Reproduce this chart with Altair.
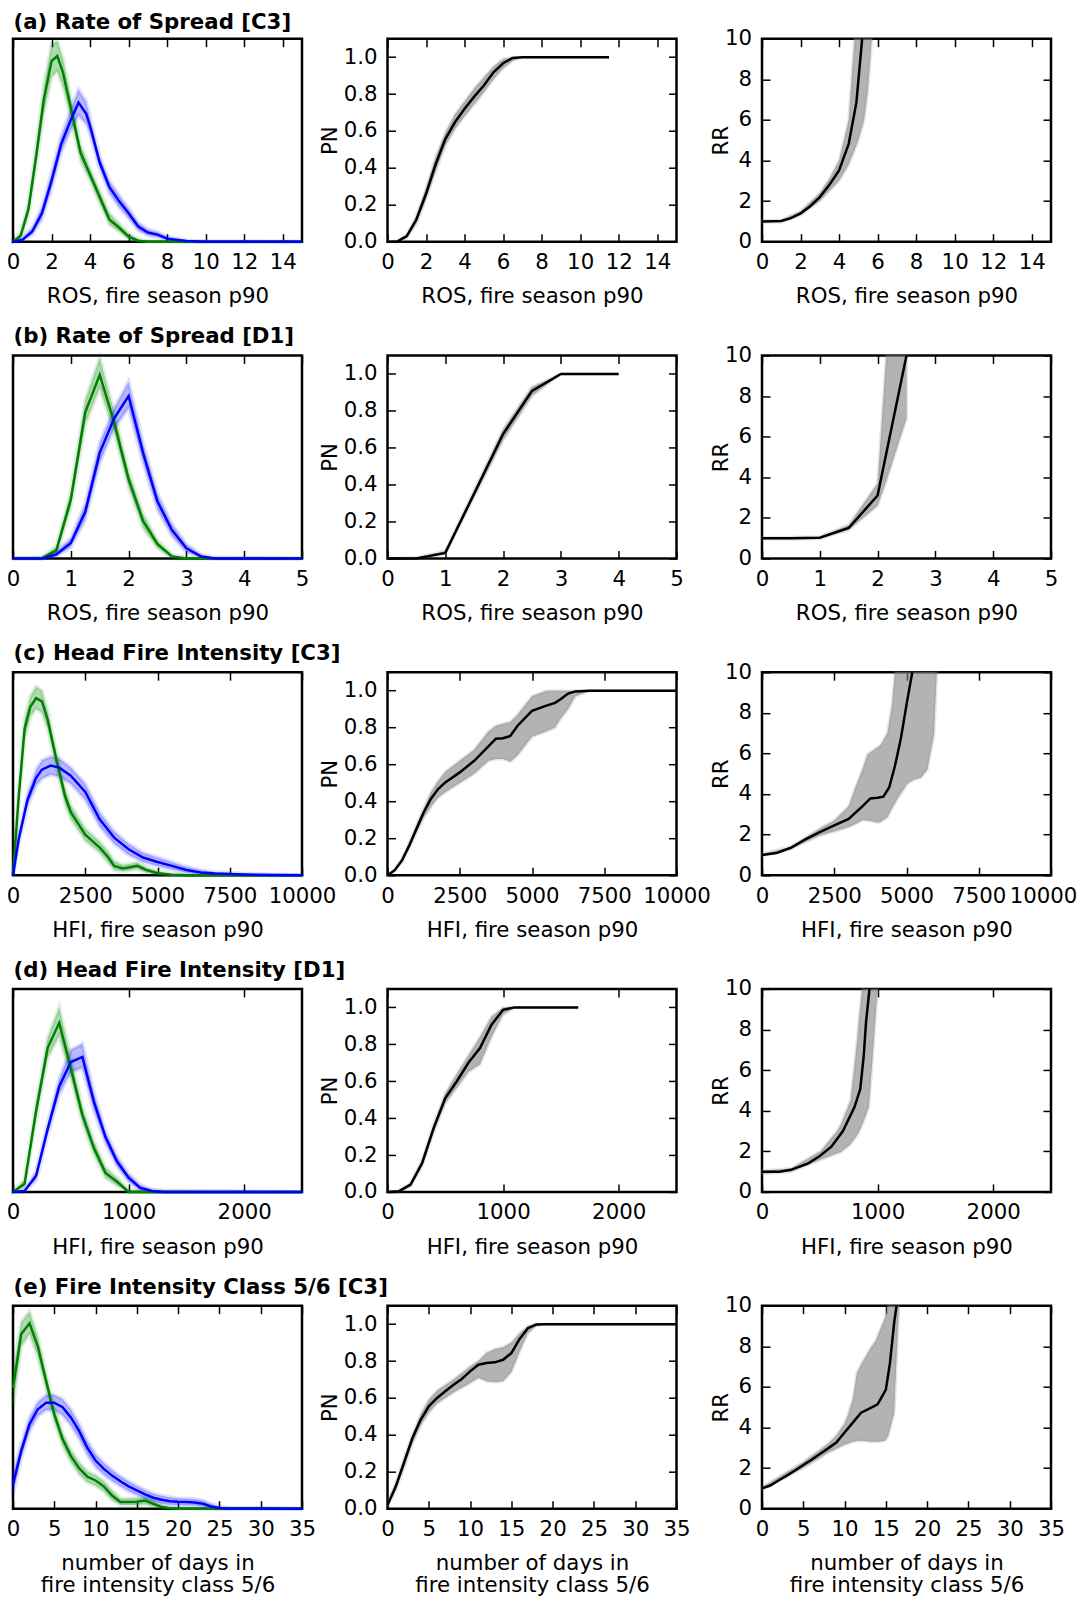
import altair as alt
import pandas as pd

FONT = "DejaVu Sans"
FS = 21.3
GREEN = "#008000"
BLUE = "#0000ff"
GRAY = "#808080"

row_titles = ["(a) Rate of Spread [C3]", "(b) Rate of Spread [D1]",
              "(c) Head Fire Intensity [C3]", "(d) Head Fire Intensity [D1]",
              "(e) Fire Intensity Class 5/6 [C3]"]
x_titles = ["ROS, fire season p90", "ROS, fire season p90",
            "HFI, fire season p90", "HFI, fire season p90",
            ["number of days in", "fire intensity class 5/6"]]
x_domains = [[0, 15], [0, 5], [0, 10000], [0, 2500], [0, 35]]
a_xticks = [0, 2, 4, 6, 8, 10, 12, 14]
b_xticks = [0, 1, 2, 3, 4, 5]
c_xticks = [0, 2500, 5000, 7500, 10000]
d_xticks = [0, 1000, 2000]
e_xticks = [0, 5, 10, 15, 20, 25, 30, 35]
pn_ticks = [0, 0.2, 0.4, 0.6, 0.8, 1.0]
rr_ticks = [0, 2, 4, 6, 8, 10]

# ---------------- row (a) ----------------
ga_x = [0, 0.4, 0.8, 1.2, 1.6, 2.0, 2.3, 2.6, 3.0, 3.5, 4.0, 4.5, 5.0, 5.5, 6.0, 6.5, 7.0, 8.0, 15]
ga_y = [0, 0.03, 0.16, 0.42, 0.70, 0.89, 0.915, 0.83, 0.66, 0.44, 0.33, 0.22, 0.11, 0.07, 0.025, 0.005, 0, 0, 0]
ga_hi = [0.005, 0.045, 0.19, 0.47, 0.77, 0.97, 0.99, 0.90, 0.71, 0.48, 0.36, 0.25, 0.14, 0.09, 0.04, 0.012, 0.003, 0, 0]
ga_lo = [0, 0.015, 0.13, 0.37, 0.63, 0.81, 0.84, 0.76, 0.61, 0.40, 0.30, 0.19, 0.085, 0.05, 0.012, 0, 0, 0, 0]
ba_x = [0, 0.5, 1.0, 1.5, 2.0, 2.5, 3.0, 3.4, 3.8, 4.0, 4.5, 5.0, 5.5, 6.0, 6.5, 7.0, 7.5, 8.0, 9.0, 10, 15]
ba_y = [0, 0.01, 0.05, 0.14, 0.30, 0.48, 0.60, 0.685, 0.63, 0.57, 0.39, 0.27, 0.20, 0.14, 0.075, 0.045, 0.035, 0.015, 0.003, 0, 0]
ba_hi = [0.005, 0.02, 0.07, 0.17, 0.34, 0.52, 0.65, 0.75, 0.69, 0.61, 0.42, 0.30, 0.23, 0.165, 0.095, 0.06, 0.048, 0.025, 0.007, 0.001, 0]
ba_lo = [0, 0.003, 0.035, 0.11, 0.26, 0.44, 0.55, 0.62, 0.58, 0.53, 0.36, 0.24, 0.17, 0.115, 0.055, 0.03, 0.022, 0.007, 0, 0, 0]
pa_x = [0, 0.5, 1, 1.5, 2, 2.5, 3, 3.5, 4, 4.5, 5, 5.5, 6, 6.5, 7, 11.5]
pa_y = [0, 0, 0.03, 0.12, 0.26, 0.42, 0.556, 0.647, 0.72, 0.786, 0.846, 0.918, 0.967, 0.996, 1.0, 1.0]
pa_hi = [0, 0.005, 0.035, 0.14, 0.29, 0.46, 0.59, 0.69, 0.76, 0.83, 0.89, 0.95, 0.99, 1.0, 1.0, 1.0]
pa_lo = [0, 0, 0.02, 0.10, 0.23, 0.38, 0.52, 0.61, 0.68, 0.745, 0.81, 0.88, 0.94, 0.98, 1.0, 1.0]
ra_x = [0, 1, 1.5, 2, 2.5, 3, 3.5, 4, 4.5, 4.9, 5.2]
ra_y = [1.0, 1.02, 1.16, 1.39, 1.75, 2.2, 2.81, 3.51, 4.82, 6.86, 10]
rab_x = [0, 1, 2, 3, 3.5, 4, 4.5, 4.8, 5.0, 5.3, 5.5, 5.7]
rab_hi = [1.05, 1.07, 1.5, 2.4, 3.1, 4.0, 6.0, 10, 10, 10, 10, 10]
rab_lo = [0.95, 0.97, 1.3, 2.0, 2.5, 3.0, 3.8, 4.5, 5.0, 6.0, 7.5, 10]

# ---------------- row (b) ----------------
gb_x = [0, 0.5, 0.75, 1.0, 1.25, 1.5, 1.75, 2.0, 2.25, 2.5, 2.75, 3.0, 5.0]
gb_y = [0, 0, 0.04, 0.29, 0.72, 0.905, 0.67, 0.39, 0.185, 0.07, 0.01, 0, 0]
gb_hi = [0, 0.005, 0.06, 0.33, 0.78, 0.99, 0.72, 0.43, 0.22, 0.09, 0.02, 0, 0]
gb_lo = [0, 0, 0.02, 0.25, 0.66, 0.84, 0.62, 0.35, 0.15, 0.05, 0, 0, 0]
bb_x = [0, 0.5, 0.75, 1.0, 1.25, 1.5, 1.75, 2.0, 2.25, 2.5, 2.75, 3.0, 3.25, 3.5, 5.0]
bb_y = [0, 0, 0.02, 0.076, 0.23, 0.52, 0.69, 0.80, 0.52, 0.28, 0.14, 0.05, 0.01, 0, 0]
bb_hi = [0, 0.005, 0.035, 0.10, 0.27, 0.57, 0.74, 0.87, 0.57, 0.32, 0.17, 0.07, 0.02, 0.003, 0]
bb_lo = [0, 0, 0.01, 0.055, 0.19, 0.47, 0.64, 0.74, 0.47, 0.24, 0.11, 0.03, 0.003, 0, 0]
pb_x = [0, 0.5, 1.0, 2.0, 2.5, 3.0, 4.0]
pb_y = [0, 0, 0.03, 0.674, 0.908, 1.0, 1.0]
pb_hi = [0, 0.005, 0.04, 0.70, 0.93, 1.0, 1.0]
pb_lo = [0, 0, 0.025, 0.64, 0.88, 1.0, 1.0]
rb_x = [0, 0.5, 1.0, 1.5, 2.0, 2.5]
rb_y = [1.0, 1.0, 1.02, 1.5, 3.1, 10]
rbb_x = [0, 0.5, 1.0, 1.5, 2.0, 2.15, 2.5]
rbb_hi = [1.05, 1.05, 1.07, 1.65, 3.7, 10, 10]
rbb_lo = [0.95, 0.95, 0.97, 1.4, 2.6, 3.8, 6.9]

# ---------------- row (c) ----------------
gc_x = [0, 200, 400, 600, 800, 1000, 1200, 1500, 1800, 2000, 2500, 3000, 3300, 3500, 3800, 4000, 4300, 4600, 5000, 5500, 6000, 10000]
gc_y = [0, 0.39, 0.72, 0.83, 0.872, 0.856, 0.766, 0.57, 0.39, 0.31, 0.20, 0.136, 0.087, 0.046, 0.033, 0.038, 0.046, 0.026, 0.01, 0.002, 0, 0]
gc_hi = [0, 0.42, 0.77, 0.88, 0.93, 0.91, 0.81, 0.61, 0.43, 0.345, 0.23, 0.165, 0.115, 0.07, 0.05, 0.055, 0.062, 0.04, 0.02, 0.006, 0.001, 0]
gc_lo = [0, 0.36, 0.67, 0.78, 0.82, 0.80, 0.72, 0.53, 0.35, 0.275, 0.17, 0.11, 0.06, 0.025, 0.018, 0.022, 0.03, 0.012, 0.002, 0, 0, 0]
bc_x = [0, 200, 500, 800, 1000, 1300, 1600, 2000, 2500, 3000, 3500, 4000, 4500, 5000, 5500, 6000, 6500, 7000, 8000, 9000, 10000]
bc_y = [0, 0.18, 0.37, 0.48, 0.52, 0.54, 0.53, 0.49, 0.41, 0.275, 0.185, 0.128, 0.087, 0.065, 0.046, 0.026, 0.013, 0.008, 0.003, 0.001, 0]
bc_hi = [0, 0.20, 0.40, 0.52, 0.565, 0.585, 0.575, 0.53, 0.45, 0.31, 0.215, 0.155, 0.11, 0.087, 0.065, 0.042, 0.025, 0.016, 0.007, 0.003, 0.001]
bc_lo = [0, 0.16, 0.34, 0.44, 0.475, 0.495, 0.485, 0.45, 0.37, 0.24, 0.155, 0.10, 0.065, 0.045, 0.028, 0.012, 0.004, 0.002, 0, 0, 0]
pc_x = [0, 250, 500, 750, 1000, 1250, 1500, 1750, 2000, 2500, 3000, 3500, 3750, 4000, 4250, 4500, 5000, 5500, 5800, 6000, 6250, 6500, 7000, 10000]
pc_y = [0, 0.027, 0.08, 0.16, 0.25, 0.34, 0.413, 0.467, 0.503, 0.557, 0.62, 0.70, 0.74, 0.742, 0.754, 0.81, 0.89, 0.919, 0.934, 0.955, 0.984, 0.996, 1.0, 1.0]
pc_hi = [0, 0.03, 0.09, 0.175, 0.27, 0.36, 0.45, 0.51, 0.56, 0.62, 0.68, 0.78, 0.81, 0.82, 0.83, 0.87, 0.97, 1.0, 1.0, 1.0, 1.0, 1.0, 1.0, 1.0]
pc_lo = [0, 0.024, 0.07, 0.145, 0.23, 0.31, 0.37, 0.42, 0.45, 0.50, 0.55, 0.62, 0.63, 0.63, 0.615, 0.65, 0.75, 0.78, 0.80, 0.85, 0.90, 0.97, 1.0, 1.0]
rc_x = [0, 500, 1000, 1500, 2000, 2500, 3000, 3500, 3750, 4000, 4200, 4400, 4600, 4800, 5000, 5200]
rc_y = [1.0, 1.09, 1.35, 1.76, 2.12, 2.45, 2.77, 3.43, 3.78, 3.82, 3.87, 4.32, 5.38, 6.69, 8.4, 10]
rcb_x = [0, 1000, 2000, 2500, 3000, 3200, 3500, 3650, 4000, 4100, 4340, 4500, 4600, 4700, 5030, 5250, 5500, 5720, 5950, 6050]
rcb_hi = [1.05, 1.4, 2.3, 2.7, 3.4, 4.2, 5.3, 5.95, 6.3, 6.4, 7.0, 8.4, 10, 10, 10, 10, 10, 10, 10, 10]
rcb_lo = [0.95, 1.3, 1.95, 2.15, 2.37, 2.5, 2.72, 2.7, 2.6, 2.62, 2.85, 3.3, 3.55, 3.8, 4.5, 4.7, 4.8, 5.2, 6.9, 10]

# ---------------- row (d) ----------------
gd_x = [0, 100, 200, 300, 400, 500, 600, 700, 800, 900, 1000, 2500]
gd_y = [0, 0.04, 0.40, 0.71, 0.833, 0.61, 0.38, 0.216, 0.093, 0.05, 0, 0]
gd_hi = [0.005, 0.06, 0.44, 0.76, 0.91, 0.66, 0.42, 0.25, 0.12, 0.07, 0.01, 0]
gd_lo = [0, 0.025, 0.36, 0.66, 0.77, 0.56, 0.34, 0.185, 0.07, 0.03, 0, 0]
bd_x = [0, 100, 200, 300, 400, 500, 600, 700, 800, 900, 1000, 1100, 1200, 1300, 2500]
bd_y = [0, 0.005, 0.08, 0.31, 0.52, 0.64, 0.665, 0.444, 0.27, 0.15, 0.07, 0.02, 0.005, 0, 0]
bd_hi = [0.003, 0.012, 0.10, 0.34, 0.56, 0.70, 0.73, 0.49, 0.30, 0.175, 0.09, 0.035, 0.012, 0.003, 0]
bd_lo = [0, 0, 0.06, 0.28, 0.48, 0.59, 0.61, 0.40, 0.24, 0.125, 0.05, 0.008, 0, 0, 0]
pd_x = [0, 100, 200, 300, 400, 500, 600, 700, 800, 900, 1000, 1100, 1650]
pd_y = [0, 0.004, 0.04, 0.157, 0.347, 0.509, 0.60, 0.70, 0.78, 0.906, 0.987, 1.0, 1.0]
pd_hi = [0, 0.006, 0.05, 0.175, 0.37, 0.535, 0.64, 0.74, 0.84, 0.95, 1.0, 1.0, 1.0]
pd_lo = [0, 0.002, 0.03, 0.14, 0.325, 0.48, 0.565, 0.65, 0.69, 0.84, 0.96, 1.0, 1.0]
rd_x = [0, 150, 250, 400, 500, 600, 700, 800, 850, 880, 900, 930]
rd_y = [1.0, 1.0, 1.09, 1.41, 1.77, 2.23, 3.0, 4.18, 5.07, 6.7, 8.37, 10]
rdb_x = [0, 250, 506, 650, 680, 766, 824, 838, 867, 925, 968, 1000]
rdb_hi = [1.05, 1.15, 2.0, 3.0, 3.3, 4.5, 7.5, 8.5, 10, 10, 10, 10]
rdb_lo = [0.9, 1.0, 1.58, 1.9, 1.95, 2.35, 2.8, 2.95, 3.3, 4.2, 7.5, 10]

# ---------------- row (e) ----------------
ge_x = [0, 1, 2, 3, 4, 5, 6, 7, 8, 9, 10, 11, 12, 13, 14, 15, 16, 17, 18, 19, 20, 35]
ge_y = [0.595, 0.86, 0.913, 0.80, 0.63, 0.465, 0.343, 0.26, 0.20, 0.158, 0.139, 0.11, 0.065, 0.033, 0.033, 0.034, 0.04, 0.024, 0.008, 0.002, 0, 0]
ge_hi = [0.68, 0.92, 0.97, 0.85, 0.67, 0.50, 0.375, 0.29, 0.23, 0.185, 0.165, 0.135, 0.09, 0.05, 0.05, 0.052, 0.058, 0.04, 0.018, 0.007, 0.002, 0]
ge_lo = [0.50, 0.80, 0.86, 0.75, 0.59, 0.43, 0.31, 0.23, 0.17, 0.13, 0.113, 0.085, 0.042, 0.018, 0.018, 0.018, 0.022, 0.01, 0.002, 0, 0, 0]
be_x = [0, 1, 2, 3, 4, 5, 6, 7, 8, 9, 10, 11, 12, 13, 14, 15, 16, 17, 18, 19, 20, 21, 22, 23, 24, 25, 26, 35]
be_y = [0.12, 0.285, 0.416, 0.49, 0.522, 0.522, 0.50, 0.45, 0.383, 0.30, 0.237, 0.196, 0.163, 0.135, 0.11, 0.09, 0.07, 0.054, 0.044, 0.037, 0.034, 0.033, 0.031, 0.024, 0.011, 0.003, 0.001, 0]
be_hi = [0.17, 0.32, 0.45, 0.525, 0.56, 0.56, 0.54, 0.49, 0.42, 0.335, 0.27, 0.225, 0.19, 0.16, 0.135, 0.113, 0.092, 0.075, 0.064, 0.056, 0.052, 0.05, 0.048, 0.04, 0.024, 0.011, 0.005, 0]
be_lo = [0.07, 0.25, 0.38, 0.455, 0.485, 0.485, 0.46, 0.41, 0.345, 0.265, 0.205, 0.167, 0.136, 0.11, 0.086, 0.068, 0.05, 0.035, 0.026, 0.02, 0.017, 0.016, 0.015, 0.01, 0.002, 0, 0, 0]
pe_x = [0, 1, 2, 3, 4, 5, 6, 7, 8, 9, 10, 11, 12, 13, 14, 15, 16, 17, 18, 19, 35]
pe_y = [0.02, 0.12, 0.25, 0.38, 0.48, 0.555, 0.60, 0.636, 0.672, 0.703, 0.744, 0.78, 0.789, 0.793, 0.807, 0.843, 0.92, 0.978, 0.998, 1.0, 1.0]
pe_hi = [0.03, 0.14, 0.27, 0.40, 0.51, 0.59, 0.64, 0.67, 0.70, 0.735, 0.77, 0.80, 0.845, 0.865, 0.875, 0.90, 0.95, 0.99, 1.0, 1.0, 1.0]
pe_lo = [0.01, 0.10, 0.22, 0.35, 0.45, 0.52, 0.57, 0.60, 0.63, 0.655, 0.68, 0.71, 0.69, 0.685, 0.69, 0.74, 0.85, 0.95, 0.99, 1.0, 1.0]
re_x = [0, 1, 2, 3, 4, 5, 6, 7, 8, 9, 10, 11, 12, 13, 14, 15, 15.5, 16, 16.3]
re_y = [1.0, 1.14, 1.39, 1.63, 1.88, 2.15, 2.41, 2.69, 2.97, 3.26, 3.75, 4.24, 4.73, 4.93, 5.14, 5.87, 7.18, 9.14, 10]
reb_x = [0, 5, 8, 9, 10, 10.4, 11, 11.5, 12, 12.7, 13, 13.8, 14, 14.9, 15, 15.3, 16, 16.4, 16.6]
reb_hi = [1.05, 2.3, 3.2, 3.6, 4.2, 4.6, 5.4, 6.7, 7.1, 7.6, 7.8, 8.3, 8.5, 9.4, 9.6, 10, 10, 10, 10]
reb_lo = [0.95, 2.0, 2.75, 2.95, 3.15, 3.2, 3.3, 3.33, 3.35, 3.32, 3.3, 3.3, 3.3, 3.35, 3.4, 3.6, 4.7, 8.3, 10]

rows = [
    dict(g=(ga_x, ga_y, ga_lo, ga_hi), b=(ba_x, ba_y, ba_lo, ba_hi), p=(pa_x, pa_y, pa_lo, pa_hi),
         r=(ra_x, ra_y), rb=(rab_x, rab_lo, rab_hi), xt=a_xticks),
    dict(g=(gb_x, gb_y, gb_lo, gb_hi), b=(bb_x, bb_y, bb_lo, bb_hi), p=(pb_x, pb_y, pb_lo, pb_hi),
         r=(rb_x, rb_y), rb=(rbb_x, rbb_lo, rbb_hi), xt=b_xticks),
    dict(g=(gc_x, gc_y, gc_lo, gc_hi), b=(bc_x, bc_y, bc_lo, bc_hi), p=(pc_x, pc_y, pc_lo, pc_hi),
         r=(rc_x, rc_y), rb=(rcb_x, rcb_lo, rcb_hi), xt=c_xticks),
    dict(g=(gd_x, gd_y, gd_lo, gd_hi), b=(bd_x, bd_y, bd_lo, bd_hi), p=(pd_x, pd_y, pd_lo, pd_hi),
         r=(rd_x, rd_y), rb=(rdb_x, rdb_lo, rdb_hi), xt=d_xticks),
    dict(g=(ge_x, ge_y, ge_lo, ge_hi), b=(be_x, be_y, be_lo, be_hi), p=(pe_x, pe_y, pe_lo, pe_hi),
         r=(re_x, re_y), rb=(reb_x, reb_lo, reb_hi), xt=e_xticks),
]

W, H = 289, 203
TICKIN = {"expr": "-8"}


def xaxis(ticks, title, shift_last=False):
    kw = dict(values=ticks, title=title, format="d", orient="bottom", labelPadding=18,
              titlePadding=13, labelFlush=False, labelOverlap=False, titleLineHeight=21.5)
    if shift_last:
        # keep the last label inside the page, as in the reference
        kw["labelOffset"] = {"condition": {"test": "datum.value == %d" % ticks[-1], "value": -8},
                             "value": 0}
    return alt.Axis(**kw)


def xaxis_top(ticks, title=None, ty=-12.5):
    if title is None:
        return alt.Axis(values=ticks, orient="top", labels=False, title=None)
    return alt.Axis(values=ticks, orient="top", labels=False, title=title, titleX=0, titleY=ty,
                    titleAlign="left", titleBaseline="alphabetic", titleAngle=0,
                    titleFontWeight="bold", titleFontSize=FS)


def yaxis(ticks, title, fmt, tx):
    return alt.Axis(values=ticks, title=title, format=fmt, orient="left", labelPadding=18.5,
                    titleX=tx, labelFlush=False, labelOverlap=False)


def yaxis_right(ticks):
    return alt.Axis(values=ticks, orient="right", labels=False, title=None)


def density_panel(i):
    r = rows[i]
    xs = alt.Scale(domain=x_domains[i], nice=False, zero=False)
    ys = alt.Scale(domain=[0, 1], nice=False)
    g = pd.DataFrame(dict(x=r["g"][0], y=r["g"][1], lo=r["g"][2], hi=r["g"][3]))
    b = pd.DataFrame(dict(x=r["b"][0], y=r["b"][1], lo=r["b"][2], hi=r["b"][3]))
    gband = alt.Chart(g).mark_area(color=GREEN, fillOpacity=0.3, stroke=GREEN, strokeOpacity=0.12,
                                   strokeWidth=4).encode(
        x=alt.X("x:Q", scale=xs, axis=xaxis(r["xt"], x_titles[i])),
        y=alt.Y("lo:Q", scale=ys, axis=None), y2="hi:Q")
    bband = alt.Chart(b).mark_area(color=BLUE, fillOpacity=0.28, stroke=BLUE, strokeOpacity=0.12,
                                   strokeWidth=4).encode(
        x=alt.X("x:Q", scale=xs, axis=None),
        y=alt.Y("lo:Q", scale=ys, axis=None), y2="hi:Q")
    ty = -10.5 if i == 0 else -12.5
    gline = alt.Chart(g).mark_line(color=GREEN, strokeWidth=2.5).encode(
        x=alt.X("x:Q", scale=xs, axis=xaxis_top(r["xt"], row_titles[i], ty)),
        y=alt.Y("y:Q", scale=ys, axis=None))
    bline = alt.Chart(b).mark_line(color=BLUE, strokeWidth=2.5).encode(
        x=alt.X("x:Q", scale=xs, axis=None),
        y=alt.Y("y:Q", scale=ys, axis=None))
    return alt.layer(gband, bband, gline, bline).resolve_axis(x="independent").properties(
        width=W, height=H)


def curve_panel(i, line, band, ydom, yticks, yfmt, ytitle, tx, shift_last=False):
    r = rows[i]
    xs = alt.Scale(domain=x_domains[i], nice=False, zero=False)
    ys = alt.Scale(domain=ydom, nice=False, zero=False)
    bd = pd.DataFrame(dict(x=band[0], lo=band[1], hi=band[2]))
    ld = pd.DataFrame(dict(x=line[0], y=line[1]))
    bandc = alt.Chart(bd).mark_area(color=GRAY, fillOpacity=0.6, stroke=GRAY, strokeOpacity=0.2,
                                    strokeWidth=3).encode(
        x=alt.X("x:Q", scale=xs, axis=xaxis(r["xt"], x_titles[i], shift_last)),
        y=alt.Y("lo:Q", scale=ys, axis=yaxis(yticks, ytitle, yfmt, tx)), y2="hi:Q")
    linec = alt.Chart(ld).mark_line(color="black", strokeWidth=2.5).encode(
        x=alt.X("x:Q", scale=xs, axis=xaxis_top(r["xt"])),
        y=alt.Y("y:Q", scale=ys, axis=yaxis_right(yticks)))
    return alt.layer(bandc, linec).resolve_axis(x="independent", y="independent").properties(
        width=W, height=H)


panels = []
for i, r in enumerate(rows):
    panels.append(density_panel(i))
    p = r["p"]
    panels.append(curve_panel(i, (p[0], p[1]), (p[0], p[2], p[3]), [0, 1.1], pn_ticks, ".1f", "PN", -47))
    panels.append(curve_panel(i, r["r"], r["rb"], [0, 10], rr_ticks, "d", "RR", -30,
                              shift_last=(i == 2)))

chart = alt.concat(*panels, columns=3).properties(
    spacing={"row": 113.75, "column": 85.5}, bounds="flush",
    padding={"left": -5, "top": 1.7, "right": 0, "bottom": 0}, background="white"
).configure_view(
    stroke="black", strokeWidth=2.5
).configure_axis(
    labelFont=FONT, labelFontSize=FS, labelColor="black",
    titleFont=FONT, titleFontSize=FS, titleFontWeight="normal", titleColor="black",
    tickColor="black", tickWidth=1.5, tickSize=TICKIN, grid=False, domain=False
)

chart.save("out.html", embed_options={"renderer": "svg", "actions": False})
